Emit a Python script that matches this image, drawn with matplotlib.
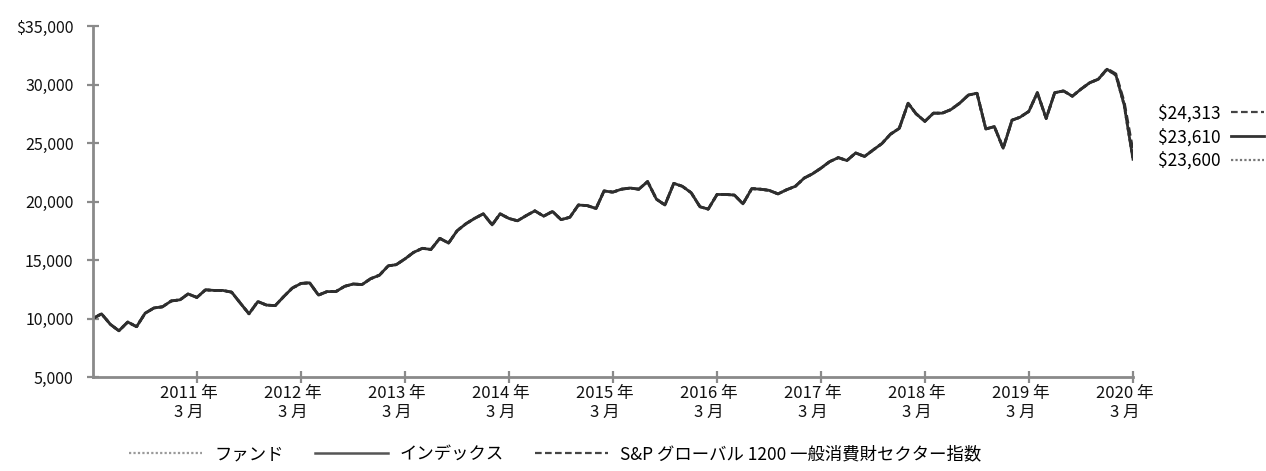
import matplotlib
matplotlib.use('Agg')
import matplotlib.pyplot as plt
import matplotlib.transforms as mtransforms
import pandas as pd

plt.rcParams['font.family'] = ['Noto Sans CJK JP', 'DejaVu Sans']

# ---- data ----
dates = pd.date_range('2010-03-31', periods=121, freq='ME')

index_vals = [
    10000, 10400, 9500, 8950, 9700, 9300, 10450, 10900, 11000, 11500, 11600, 12100,
    11800, 12450, 12400, 12400, 12250, 11300, 10400, 11450, 11150, 11100, 11900, 12600,
    13000, 13050, 12000, 12300, 12300, 12750, 12950, 12900, 13400, 13700, 14500, 14600,
    15100, 15650, 16000, 15900, 16850, 16450, 17500, 18100, 18550, 18950, 18000, 18950,
    18550, 18350, 18800, 19200, 18750, 19150, 18450, 18650, 19700, 19650, 19400, 20900,
    20800, 21050, 21150, 21050, 21700, 20200, 19700, 21550, 21300, 20750, 19550, 19350,
    20600, 20600, 20550, 19800, 21100, 21050, 20950, 20650, 21000, 21300, 22000, 22350,
    22850, 23400, 23750, 23500, 24150, 23850, 24400, 24950, 25750, 26250, 28400, 27500,
    26850, 27550, 27550, 27850, 28400, 29100, 29250, 26200, 26400, 24550, 26950, 27200,
    27700, 29300, 27100, 29300, 29450, 29000, 29600, 30150, 30450, 31300, 30800, 28250,
    23610,
]
fund_vals = [
    10000, 10400, 9500, 8950, 9700, 9300, 10450, 10900, 11000, 11500, 11600, 12100,
    11800, 12450, 12400, 12400, 12250, 11300, 10400, 11450, 11150, 11100, 11900, 12600,
    13000, 13050, 12000, 12300, 12300, 12750, 12950, 12900, 13400, 13700, 14500, 14600,
    15100, 15650, 16000, 15900, 16850, 16450, 17500, 18100, 18550, 18950, 18000, 18950,
    18550, 18350, 18800, 19200, 18750, 19150, 18450, 18650, 19700, 19650, 19400, 20900,
    20800, 21050, 21150, 21050, 21700, 20200, 19700, 21550, 21300, 20750, 19550, 19350,
    20600, 20600, 20550, 19800, 21100, 21050, 20950, 20650, 21000, 21300, 22000, 22350,
    22850, 23400, 23750, 23500, 24150, 23850, 24400, 24950, 25750, 26250, 28400, 27500,
    26850, 27550, 27550, 27850, 28400, 29100, 29250, 26200, 26400, 24550, 26950, 27200,
    27700, 29300, 27100, 29300, 29450, 29000, 29600, 30150, 30450, 31300, 30800, 28250,
    23600,
]
sp_vals = [
    10000, 10400, 9500, 8950, 9700, 9300, 10450, 10900, 11000, 11500, 11600, 12100,
    11800, 12450, 12400, 12400, 12250, 11300, 10400, 11450, 11150, 11100, 11900, 12600,
    13000, 13050, 12000, 12300, 12300, 12750, 12950, 12900, 13400, 13700, 14500, 14600,
    15100, 15650, 16000, 15900, 16850, 16450, 17500, 18100, 18550, 18950, 18000, 18950,
    18550, 18350, 18800, 19200, 18750, 19150, 18450, 18650, 19700, 19650, 19400, 20900,
    20800, 21050, 21150, 21050, 21700, 20200, 19700, 21550, 21300, 20750, 19550, 19350,
    20600, 20600, 20550, 19800, 21100, 21050, 20950, 20650, 21000, 21300, 22000, 22350,
    22850, 23400, 23750, 23500, 24150, 23850, 24400, 24950, 25750, 26250, 28400, 27500,
    26850, 27550, 27550, 27850, 28400, 29100, 29250, 26200, 26400, 24550, 26950, 27200,
    27700, 29300, 27100, 29300, 29450, 29000, 29600, 30150, 30450, 31350, 30900, 28500,
    24313,
]

series_names = ['ファンド', 'インデックス', 'S&P グローバル 1200 一般消費財セクター指数']
final_labels = ['$24,313', '$23,610', '$23,600']  # S&P, index, fund
tick_dates = pd.to_datetime([f'{y}-03-31' for y in range(2011, 2021)])
tick_labels = [f'{y} 年\n3 月' for y in range(2011, 2021)]
y_ticks = [5000, 10000, 15000, 20000, 25000, 30000, 35000]
y_tick_labels = ['5,000', '10,000', '15,000', '20,000', '25,000', '30,000', '$35,000']

# ---- figure ----
W, H = 1266, 471
fig = plt.figure(figsize=(W / 100, H / 100), dpi=100)
ax = fig.add_axes([93 / W, 1 - 377 / H, (1133 - 93) / W, (377 - 26) / H])

line_col = '#2e2e2e'
l_fund, = ax.plot(dates, fund_vals, color=line_col, lw=2.0, ls=(0, (1, 1)))
l_idx, = ax.plot(dates, index_vals, color=line_col, lw=2.0, ls='-')
l_sp, = ax.plot(dates, sp_vals, color=line_col, lw=2.0, ls=(0, (3, 1.5)))

ax.set_xlim(dates[0], dates[-1])
ax.set_ylim(5000, 35000)
ax.set_xticks(tick_dates)
ax.set_xticklabels(tick_labels)
ax.set_yticks(y_ticks)
ax.set_yticklabels(y_tick_labels)

for s in ['top', 'right']:
    ax.spines[s].set_visible(False)
for s in ['left', 'bottom']:
    ax.spines[s].set_color('#8a8a8a')
    ax.spines[s].set_linewidth(2.0)

ax.tick_params(axis='both', direction='inout', length=8, width=1.6, color='#8a8a8a',
               labelcolor='#111111')
ax.tick_params(axis='y', pad=10, labelsize=11.5)
ax.tick_params(axis='x', pad=2, labelsize=12)
shift = mtransforms.ScaledTranslation(-8 / 100, 0, fig.dpi_scale_trans)
for lbl in ax.get_xticklabels():
    lbl.set_linespacing(1.15)
    lbl.set_transform(lbl.get_transform() + shift)

# bottom legend
leg = fig.legend([l_fund, l_idx, l_sp], series_names, loc='lower left',
                 bbox_to_anchor=(122 / W, 0.002), borderaxespad=0, ncol=3, frameon=False,
                 fontsize=12.5, handlelength=4.2, handletextpad=0.7, columnspacing=1.8)
leg_styles = [('#9a9a9a', 1.6, (0, (1, 1))), ('#555555', 1.8, '-'), ('#444444', 1.6, (0, (3, 1.5)))]
for ln, (c, w, st) in zip(leg.get_lines(), leg_styles):
    ln.set_color(c)
    ln.set_linewidth(w)
    ln.set_linestyle(st)

# right side final-value legend
leg2 = fig.legend([l_sp, l_idx, l_fund], final_labels, loc='center left',
                  bbox_to_anchor=(1151 / W, 1 - 137 / H), borderaxespad=0, frameon=False,
                  fontsize=12.5, markerfirst=False, handlelength=1.9, handletextpad=0.6,
                  labelspacing=0.32)
leg2_styles = [('#444444', 1.6, (0, (3, 1.5))), ('#333333', 2.0, '-'), ('#777777', 1.6, (0, (1, 1)))]
for ln, (c, w, st) in zip(leg2.get_lines(), leg2_styles):
    ln.set_color(c)
    ln.set_linewidth(w)
    ln.set_linestyle(st)

fig.savefig('out.png', dpi=100)
